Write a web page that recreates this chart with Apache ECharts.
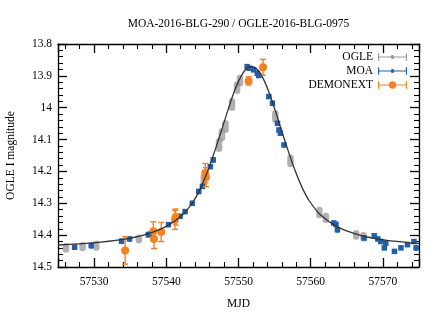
<!DOCTYPE html>
<html>
<head>
<meta charset="utf-8">
<script src="https://cdn.jsdelivr.net/npm/echarts@6/dist/echarts.min.js"></script>
<style>html,body{margin:0;padding:0;background:#fff}#c{width:436px;height:312px}</style>
</head>
<body>
<div id="c"></div>
<script>
// ---- data ----
const titleText = 'MOA-2016-BLG-290 / OGLE-2016-BLG-0975';
const xTickLabels = [57530, 57540, 57550, 57560, 57570];
const yTickLabels = [13.8, 13.9, 14, 14.1, 14.2, 14.3, 14.4, 14.5];

// OGLE: mjd, mag, err
const ogleMjd = [57526.1, 57528.4, 57530.3, 57536.2, 57545.2, 57547.3, 57547.7, 57548.2, 57549.1, 57549.8, 57550.2, 57555.1, 57557.2, 57561.2, 57562.1, 57566.3, 57567.3];
const ogleMag = [14.440, 14.436, 14.433, 14.412, 14.226, 14.117, 14.085, 14.059, 13.990, 13.937, 13.915, 14.028, 14.167, 14.329, 14.346, 14.399, 14.405];
const ogleErr = [0.005, 0.004, 0.006, 0.004, 0.010, 0.012, 0.010, 0.010, 0.010, 0.010, 0.008, 0.010, 0.010, 0.008, 0.006, 0.005, 0.005];

// MOA
const moaMjd = [57527.3, 57529.6, 57533.8, 57534.9, 57537.5, 57537.7, 57540.3, 57541.9, 57542.6, 57543.6, 57544.5, 57545.0, 57546.1, 57546.5, 57551.2, 57551.5, 57552.1, 57552.6, 57552.8, 57554.2, 57554.7, 57555.4, 57555.6, 57555.8, 57556.3, 57563.2, 57563.5, 57563.7, 57567.4, 57568.8, 57569.3, 57569.7, 57570.2, 57570.4, 57571.6, 57572.5, 57573.4, 57574.3, 57574.6];
const moaMag = [14.438, 14.433, 14.419, 14.412, 14.399, 14.397, 14.367, 14.341, 14.326, 14.300, 14.263, 14.247, 14.185, 14.164, 13.871, 13.876, 13.881, 13.892, 13.899, 13.965, 13.986, 14.049, 14.070, 14.080, 14.117, 14.362, 14.366, 14.383, 14.409, 14.402, 14.412, 14.420, 14.440, 14.425, 14.451, 14.440, 14.430, 14.420, 14.440];
const moaErr = [0.004, 0.006, 0.005, 0.005, 0.005, 0.004, 0.005, 0.005, 0.005, 0.005, 0.005, 0.005, 0.005, 0.006, 0.004, 0.004, 0.004, 0.004, 0.004, 0.005, 0.005, 0.005, 0.005, 0.004, 0.004, 0.005, 0.004, 0.006, 0.004, 0.005, 0.004, 0.005, 0.004, 0.005, 0.003, 0.004, 0.004, 0.004, 0.006];

// DEMONEXT
const demoMjd = [57534.3, 57538.2, 57538.3, 57539.3, 57541.2, 57541.3, 57545.4, 57545.5, 57551.4, 57553.4];
const demoMag = [14.448, 14.388, 14.412, 14.390, 14.352, 14.343, 14.205, 14.218, 13.916, 13.873];
const demoErr = [0.043, 0.030, 0.030, 0.030, 0.030, 0.025, 0.030, 0.030, 0.013, 0.025];

// model curve
const modelMjd = [57525.0, 57529.8, 57533.8, 57536.8, 57539.8, 57542.3, 57543.8, 57544.8, 57545.8, 57546.8, 57547.8, 57548.6, 57549.4, 57550.2, 57551.0, 57551.8, 57552.6, 57553.4, 57554.2, 57555.0, 57555.8, 57556.8, 57557.8, 57558.8, 57559.8, 57561.3, 57563.8, 57566.8, 57569.8, 57573.8, 57575.0];
const modelMag = [14.431, 14.424, 14.414, 14.400, 14.375, 14.335, 14.292, 14.250, 14.195, 14.130, 14.060, 14.003, 13.950, 13.908, 13.880, 13.870, 13.880, 13.908, 13.950, 14.003, 14.060, 14.130, 14.195, 14.250, 14.292, 14.335, 14.375, 14.400, 14.414, 14.424, 14.426];

const cOgle = 'rgba(150,150,150,0.75)';
const cMoa = '#1f5fae';
const cDemo = '#f5821f';
const serif = '"Liberation Serif", "DejaVu Serif", serif';
const fs = 11.5;

function zip3(a, b, c) { return a.map((v, i) => [v, b[i], c[i]]); }

const iconSmall = 'path://M0,0h1.2v3.4h11.8v1.2h-11.8v3.4h-1.2z M30,0h-1.2v3.4h-11.8v1.2h11.8v3.4h1.2z M17,4a2,2 0 1,1 -4,0a2,2 0 1,1 4,0z';
const iconBig = 'path://M0,0h1.2v3.4h10v1.2h-10v3.4h-1.2z M30,0h-1.2v3.4h-10v1.2h10v3.4h1.2z M18.8,4a3.8,3.8 0 1,1 -7.6,0a3.8,3.8 0 1,1 7.6,0z';

const chart = echarts.init(document.getElementById('c'), null, {renderer: 'canvas'});

function axisCommon() {
  return {
    axisLine: {show: true, onZero: false, lineStyle: {color: '#000', width: 1.3}},
    axisTick: {show: true, inside: true, length: 9, lineStyle: {color: '#000', width: 1.3}},
    minorTick: {show: true, splitNumber: 5, length: 5, lineStyle: {color: '#000', width: 1.1}},
    splitLine: {show: false},
    minorSplitLine: {show: false}
  };
}

const xBase = {type: 'value', min: 57525, max: 57575, splitNumber: 5};
const yBase = {type: 'value', min: 13.8, max: 14.5, interval: 0.1, inverse: true};

const legendCommon = {
  orient: 'vertical', right: 29, align: 'right', itemWidth: 29, itemHeight: 8, itemGap: 6,
  textStyle: {fontFamily: serif, fontSize: fs, color: '#000'}, selectedMode: false, padding: 0
};

chart.setOption({
  animation: false,
  backgroundColor: '#fff',
  grid: {left: 58, right: 17, top: 44, bottom: 45, containLabel: false, outerBoundsMode: 'none'},
  graphic: [{type: 'text', x: 238.5, y: 24, style: {text: titleText, font: fs + 'px ' + serif, fill: '#000', align: 'center', verticalAlign: 'middle'}}],
  legend: [
    Object.assign({}, legendCommon, {top: 51, data: [{name: 'OGLE', icon: iconSmall, itemStyle: {color: '#999'}}]}),
    Object.assign({}, legendCommon, {top: 65, data: [{name: 'MOA', icon: iconSmall, itemStyle: {color: cMoa}}]}),
    Object.assign({}, legendCommon, {top: 79, data: [{name: 'DEMONEXT', icon: iconBig, itemStyle: {color: cDemo}}]})
  ],
  xAxis: [
    Object.assign({}, xBase, axisCommon(), {
      position: 'bottom', name: 'MJD', nameLocation: 'middle', nameGap: 31,
      nameTextStyle: {fontFamily: serif, fontSize: fs, color: '#000'},
      axisLabel: {show: true, margin: 9, fontFamily: serif, fontSize: fs, color: '#000', showMinLabel: false, showMaxLabel: false,
        formatter: v => (xTickLabels.indexOf(Math.round(v)) >= 0 && Math.abs(v - Math.round(v)) < 1e-6) ? String(Math.round(v)) : ''}
    }),
    Object.assign({}, xBase, axisCommon(), {position: 'top', axisLabel: {show: false}})
  ],
  yAxis: [
    Object.assign({}, yBase, axisCommon(), {
      position: 'left', name: 'OGLE I magnitude', nameLocation: 'middle', nameGap: 41,
      nameTextStyle: {fontFamily: serif, fontSize: fs, color: '#000'},
      axisLabel: {show: true, margin: 6, fontFamily: serif, fontSize: fs, color: '#000',
        formatter: v => { const r = Math.round(v * 10) / 10; const f = yTickLabels.find(t => Math.abs(t - r) < 1e-6); return f === undefined ? '' : String(f); }}
    }),
    Object.assign({}, yBase, axisCommon(), {position: 'right', axisLabel: {show: false}})
  ],
  series: [
    {
      name: 'model', type: 'line', xAxisIndex: 0, yAxisIndex: 0, smooth: 0.3, showSymbol: false, symbol: 'none',
      data: modelMjd.map((x, i) => [x, modelMag[i]]),
      lineStyle: {color: '#333', width: 1.3}, z: 5, silent: true
    },
    {
      name: 'OGLE', type: 'custom', xAxisIndex: 0, yAxisIndex: 0, itemStyle: {color: '#999'}, z: 2,
      data: zip3(ogleMjd, ogleMag, ogleErr),
      renderItem: (params, api) => {
        const x = api.value(0), m = api.value(1), e = api.value(2);
        const a = api.coord([x, m - e]), b = api.coord([x, m + e]);
        return {type: 'line', shape: {x1: a[0], y1: a[1], x2: b[0], y2: b[1]},
          style: {stroke: cOgle, lineWidth: 6.5, lineCap: 'round'}};
      }
    },
    {
      name: 'MOA', type: 'custom', xAxisIndex: 0, yAxisIndex: 0, itemStyle: {color: cMoa}, z: 3,
      data: zip3(moaMjd, moaMag, moaErr),
      renderItem: (params, api) => {
        const x = api.value(0), m = api.value(1), e = api.value(2);
        const c = api.coord([x, m]);
        const a = api.coord([x, m - e]), b = api.coord([x, m + e]);
        return {type: 'group', children: [
          {type: 'line', shape: {x1: a[0], y1: a[1] - 1, x2: b[0], y2: b[1] + 1}, style: {stroke: cMoa, lineWidth: 2.5}},
          {type: 'rect', shape: {x: c[0] - 2.75, y: c[1] - 2.75, width: 5.5, height: 5.5}, style: {fill: cMoa}}
        ]};
      }
    },
    {
      name: 'DEMONEXT', type: 'custom', xAxisIndex: 0, yAxisIndex: 0, itemStyle: {color: cDemo}, z: 4,
      data: zip3(demoMjd, demoMag, demoErr),
      renderItem: (params, api) => {
        const x = api.value(0), m = api.value(1), e = api.value(2);
        const c = api.coord([x, m]);
        const a = api.coord([x, m - e]), b = api.coord([x, m + e]);
        const st = {stroke: cDemo, lineWidth: 1.4};
        return {type: 'group', children: [
          {type: 'line', shape: {x1: a[0], y1: a[1], x2: b[0], y2: b[1]}, style: st},
          {type: 'line', shape: {x1: a[0] - 3, y1: a[1], x2: a[0] + 3, y2: a[1]}, style: st},
          {type: 'line', shape: {x1: b[0] - 3, y1: b[1], x2: b[0] + 3, y2: b[1]}, style: st},
          {type: 'circle', shape: {cx: c[0], cy: c[1], r: 4}, style: {fill: cDemo}}
        ]};
      }
    }
  ]
});
</script>
</body>
</html>
